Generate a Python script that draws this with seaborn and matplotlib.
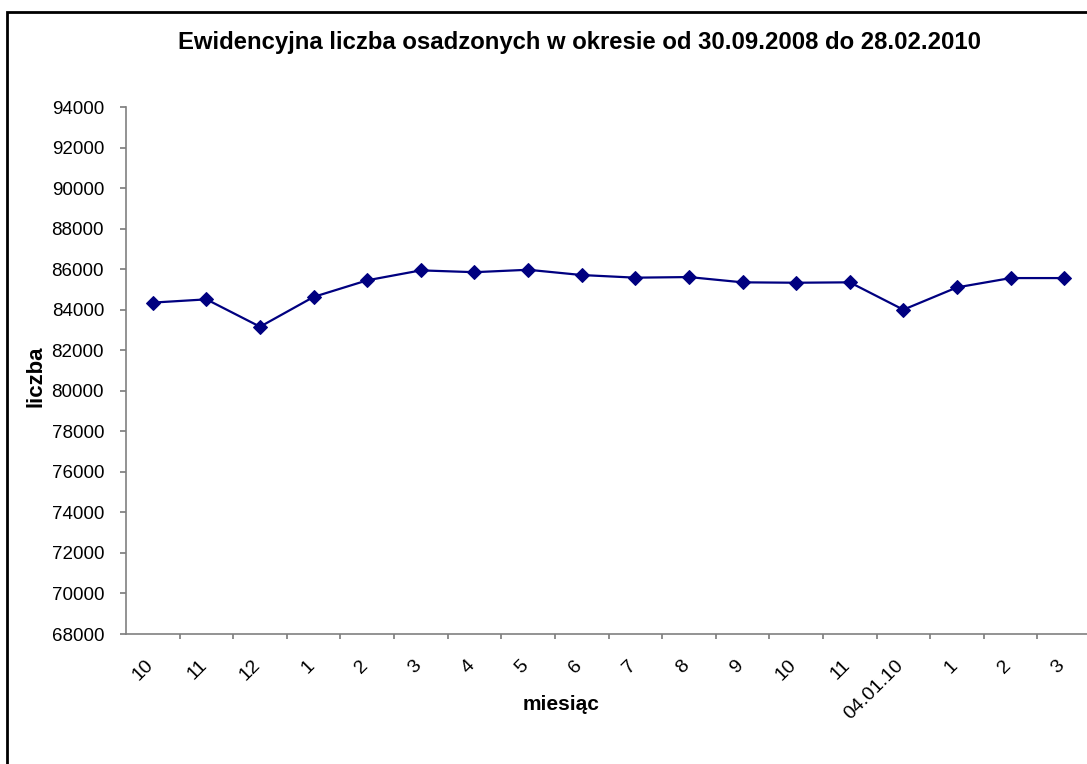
import numpy as np
import pandas as pd
import matplotlib
matplotlib.use("Agg")
import matplotlib.pyplot as plt
import matplotlib.transforms as mtransforms
import seaborn as sns
from matplotlib.patches import Rectangle

months = ["10", "11", "12", "1", "2", "3", "4", "5", "6", "7", "8", "9",
          "10", "11", "04.01.10", "1", "2", "3"]
liczba = [84350, 84510, 83160, 84630, 85450, 85940, 85850, 85970, 85710,
          85580, 85610, 85350, 85330, 85350, 84000, 85100, 85560, 85560]
y_ticks = list(range(68000, 94001, 2000))

sns.set_theme(style="white")
plt.rcParams['font.family'] = ['Liberation Sans', 'DejaVu Sans']
plt.rcParams['text.color'] = 'black'
plt.rcParams['xtick.color'] = 'black'
plt.rcParams['ytick.color'] = 'black'
plt.rcParams['axes.labelcolor'] = 'black'

df = pd.DataFrame({"poz": np.arange(len(months)), "liczba": liczba})

fig = plt.figure(figsize=(10.87, 7.64), dpi=100)
ax = fig.add_axes([126 / 1087, 130 / 764, 965 / 1087, 527 / 764])

sns.lineplot(data=df, x="poz", y="liczba", ax=ax, color="#000080",
             marker="D", markersize=7, linewidth=1.6,
             markeredgecolor="#000080")

ax.set_xlim(-0.5, len(months) - 0.5)
ax.set_ylim(68000, 94000)
ax.set_yticks(y_ticks)
ax.set_yticklabels([str(v) for v in y_ticks], fontsize=13.5)

# ticks between categories, labels at centres
ax.set_xticks(np.arange(0.5, len(months) - 0.5, 1))
ax.set_xticklabels([])
ax.set_xticks(np.arange(len(months)), minor=True)
ax.set_xticklabels(months, minor=True, rotation=45, ha="right",
                   rotation_mode="anchor", fontsize=14)
ax.tick_params(axis="x", which="major", direction="out", length=3.6,
               color="#808080", bottom=True)
ax.tick_params(axis="x", which="minor", length=0, pad=16.5, bottom=True)
ax.tick_params(axis="y", direction="out", length=4.3, color="#808080",
               left=True, pad=11.5)

# nudge rotated labels so their upper end sits under the category centre
shift = mtransforms.ScaledTranslation(-8 / 100, 0, fig.dpi_scale_trans)
for lab in ax.get_xticklabels(minor=True):
    lab.set_transform(lab.get_transform() + shift)

for s in ["top", "right"]:
    ax.spines[s].set_visible(False)
for s in ["left", "bottom"]:
    ax.spines[s].set_color("#808080")
    ax.spines[s].set_linewidth(1.2)

ax.set_xlabel("miesiąc", fontsize=15, fontweight="bold", va="center")
ax.xaxis.set_label_coords((561.5 - 126) / 965, (634 - 705) / 527)
ax.set_ylabel("liczba", fontsize=16, fontweight="bold", va="center")
ax.yaxis.set_label_coords((36 - 126) / 965, (634 - 376) / 527)
ax.grid(False)

fig.text(579 / 1087, 1 - 48.5 / 764,
         "Ewidencyjna liczba osadzonych w okresie od 30.09.2008 do 28.02.2010",
         ha="center", va="baseline", fontsize=17.2, fontweight="bold")

fig.patches.append(Rectangle((7 / 1087, -0.2), 1.2, 1.2 - 12 / 764,
                             transform=fig.transFigure, fill=False,
                             edgecolor="black", linewidth=2))

fig.savefig("out.png", dpi=100, facecolor="white")
